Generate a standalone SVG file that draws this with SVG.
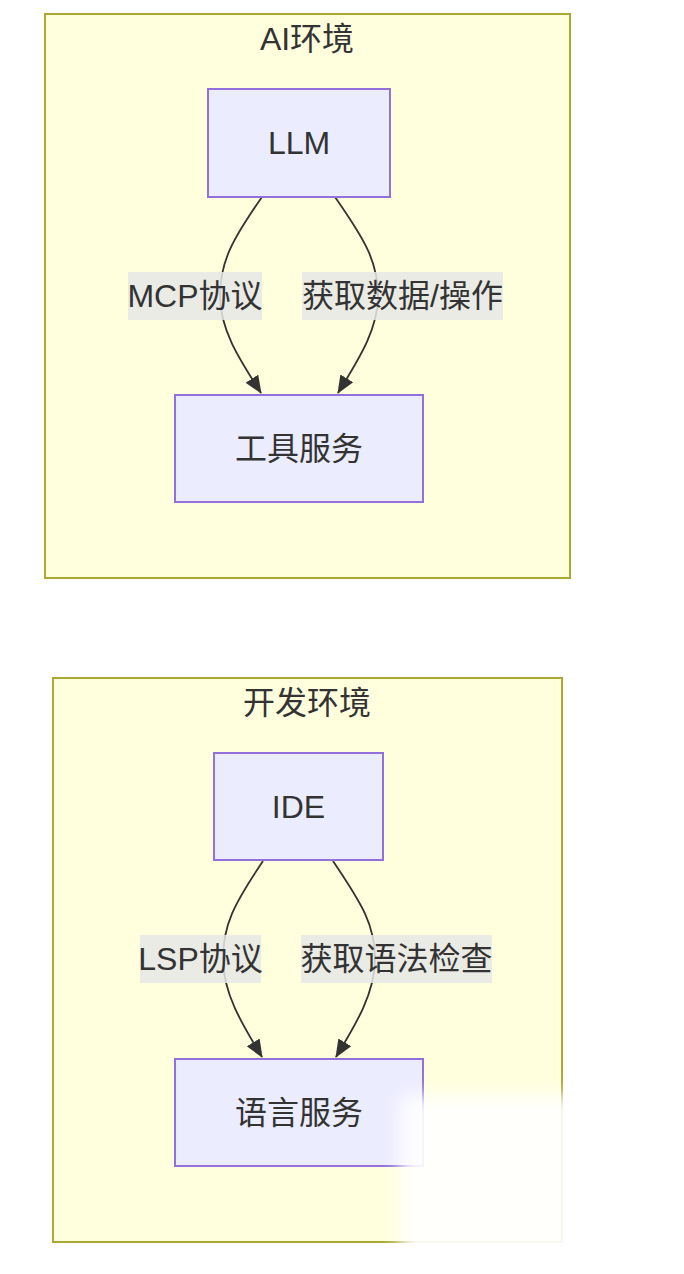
<svg xmlns="http://www.w3.org/2000/svg" width="684" height="1274" viewBox="0 0 684 1274">
<style>
.cluster{fill:#ffffde;stroke:#aaaa33;stroke-width:2}
.node{fill:#ececff;stroke:#9370db;stroke-width:2}
.t{font-family:"Liberation Sans","Noto Sans CJK SC",sans-serif;font-size:32px;fill:#333;text-anchor:middle;dominant-baseline:central}
.lbg{fill:#e8e8e8;opacity:0.85}
.edge{fill:none;stroke:#333;stroke-width:1.8}
</style>
<defs>
<marker id="arrow" markerUnits="userSpaceOnUse" markerWidth="18" markerHeight="18" viewBox="0 0 18 18" refX="17" refY="9" orient="auto">
<path d="M0,1.5 L18,9 L0,16.5 z" fill="#333"/>
</marker>
<filter id="blur" x="-30%" y="-30%" width="160%" height="160%"><feGaussianBlur stdDeviation="9"/></filter>
</defs>
<g id="cluster-ai">
<rect class="cluster" x="45" y="14" width="525" height="564"/>
<text class="t" x="307" y="39">AI环境</text>
</g>
<g id="cluster-dev">
<rect class="cluster" x="53" y="678" width="509" height="564"/>
<text class="t" x="307" y="703">开发环境</text>
</g>
<g id="connectors">
<path class="edge" d="M262,197 C232,240 220,262 220,296 C220,330 240,360 261,393" marker-end="url(#arrow)"/>
<path class="edge" d="M335,197 C365,240 378,262 378,296 C378,330 358,360 338,393" marker-end="url(#arrow)"/>
<path class="edge" d="M263,861 C234,904 223,925 223,959 C223,993 242,1024 262,1057" marker-end="url(#arrow)"/>
<path class="edge" d="M333,861 C362,904 375,925 375,959 C375,993 356,1024 336,1057" marker-end="url(#arrow)"/>
<g id="label-mcp"><rect class="lbg" x="128" y="272" width="134" height="48"/><text class="t" x="195" y="296">MCP协议</text></g>
<g id="label-fetch"><rect class="lbg" x="302" y="272" width="201" height="48"/><text class="t" x="402.5" y="296">获取数据/操作</text></g>
<g id="label-lsp"><rect class="lbg" x="140" y="935" width="121" height="48"/><text class="t" x="200.5" y="959">LSP协议</text></g>
<g id="label-syntax"><rect class="lbg" x="301" y="935" width="191" height="48"/><text class="t" x="396.5" y="959">获取语法检查</text></g>
</g>
<g id="node-llm">
<rect class="node" x="208" y="89" width="182" height="108"/>
<text class="t" x="299" y="143">LLM</text>
</g>
<g id="node-tool">
<rect class="node" x="175" y="395" width="248" height="107"/>
<text class="t" x="299" y="449">工具服务</text>
</g>
<g id="node-ide">
<rect class="node" x="214" y="753" width="169" height="107"/>
<text class="t" x="298.5" y="807">IDE</text>
</g>
<g id="node-lang">
<rect class="node" x="175" y="1059" width="248" height="107"/>
<text class="t" x="299" y="1113">语言服务</text>
</g>
<path d="M400,1095 L600,1095 L640,1274 L400,1274 Z" fill="#fff" opacity="0.92" filter="url(#blur)"/>
</svg>
